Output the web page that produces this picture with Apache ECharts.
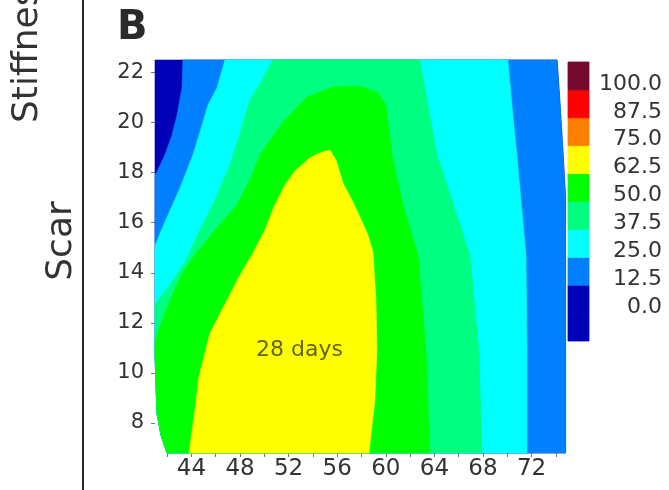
<!DOCTYPE html>
<html>
<head>
<meta charset="utf-8">
<script src="https://cdn.jsdelivr.net/npm/echarts@6/dist/echarts.min.js"></script>
<style>
    html, body { margin: 0; padding: 0; background: #fff; }
    #chart { width: 669px; height: 490px; }
</style>
</head>
<body>
<div id="chart"></div>
<script>
// axis ticks
var xLabels = [44, 48, 52, 56, 60, 64, 68, 72];
var xMinor = [42, 44, 46, 48, 50, 52, 54, 56, 58, 60, 62, 64, 66, 68, 70, 72, 74];
var yLabels = [8, 10, 12, 14, 16, 18, 20, 22];
var barLabels = [0, 12.5, 25, 37.5, 50, 62.5, 75, 87.5, 100];

// legend bands (lo, hi) and colours, bottom to top
var bandLo = [-12.5, 0, 12.5, 25, 37.5, 50, 62.5, 75, 87.5, 100];
var bandHi = [0, 12.5, 25, 37.5, 50, 62.5, 75, 87.5, 100, 112.5];
var bandColors = ['#0000b8', '#0000b8', '#0080ff', '#00ffff', '#00ff80', '#00ff00', '#ffff00', '#ff8000', '#ff0000', '#760a2e'];

// edges of the measured area
var leftEdge = [[41, 10.72], [41.16, 8.4], [41.49, 7.52], [41.99, 6.8]];
var rightEdge = [[74.8, 6.8], [74.8, 17], [74.6, 18.7], [74.35, 20.7], [74.1, 22.5]];

// contour lines (x = strain, y = scar)
var c125 = [[43.3, 22.5], [43.22, 21.38], [42.81, 20.3], [42.4, 19.5], [41.82, 18.71], [41.16, 18.03], [41, 17.91]];
var c25Left = [[46.76, 22.5], [46.1, 21.38], [45.36, 20.7], [44.95, 20.02], [44.13, 18.71], [43.06, 17.39], [41.82, 16.03], [41.25, 15.39], [41, 15.07]];
var c25Right = [[71.62, 6.8], [71.62, 10.91], [71.54, 14.71], [70.79, 18.71], [70.38, 20.7], [70.05, 22.5]];
var c375Left = [[50.71, 22.5], [49.81, 21.7], [48.82, 20.9], [48, 19.58], [47.17, 18.31], [45.94, 16.91], [44.7, 15.71], [43.47, 14.43], [42.23, 13.51], [41.25, 12.91], [41, 12.71]];
var c375Right = [[67.91, 6.8], [67.66, 10.91], [66.92, 14.71], [65.44, 16.91], [64.21, 18.71], [63.47, 20.7], [62.81, 22.5]];
var c50 = [[41, 11.31], [42.23, 12.91], [43.3, 14.03], [44.29, 14.71], [45.94, 15.71], [47.75, 16.71], [48.82, 17.71], [49.64, 18.71],
    [51.53, 20.02], [53.51, 21.02], [55.65, 21.42], [57.87, 21.46], [59.35, 21.18], [60.01, 20.7], [60.51, 18.71], [61.41, 16.71],
    [62.65, 14.71], [63.3, 10.91], [63.63, 6.8]];
var c625 = [[43.8, 6.8], [44.29, 8.52], [44.62, 9.84], [45.53, 11.59], [46.93, 12.91], [48, 13.91], [49.07, 14.79], [50.05, 15.71],
    [50.79, 16.63], [51.7, 17.51], [52.6, 18.11], [53.76, 18.59], [54.58, 18.79], [55.4, 18.9], [55.9, 18.51], [56.47, 17.59],
    [57.21, 16.91], [57.87, 16.23], [58.53, 15.51], [58.94, 14.83], [59.19, 12.91], [59.27, 10.91], [59.1, 8.92], [58.61, 6.8]];

var note = [[52.9, 10.9]];

// filled regions, painted from lowest level up
var layers = [
    { color: bandColors[1], points: [[41, 22.5]].concat(leftEdge, rightEdge) },
    { color: bandColors[2], points: c125.concat(leftEdge, rightEdge) },
    { color: bandColors[3], points: c25Left.concat(leftEdge, c25Right) },
    { color: bandColors[4], points: c375Left.concat(leftEdge, c375Right) },
    { color: bandColors[5], points: leftEdge.concat(c50.slice().reverse()) },
    { color: bandColors[6], points: c625 }
];

var textColor = '#333';
var font = 'DejaVu Sans';

function renderLayer(params, api) {
    var layer = layers[params.dataIndex];
    var pts = layer.points.map(function (p) { return api.coord(p); });
    return {
        type: 'polygon',
        shape: { points: pts },
        style: { fill: layer.color, stroke: layer.color, lineWidth: 0.6 }
    };
}

function renderBand(params, api) {
    var p0 = api.coord([0, api.value(0)]);
    var p1 = api.coord([1, api.value(1)]);
    var c = bandColors[params.dataIndex];
    return {
        type: 'rect',
        shape: { x: p0[0], y: p1[1], width: p1[0] - p0[0], height: p0[1] - p1[1] },
        style: { fill: c, stroke: c, lineWidth: 0.8 }
    };
}

var chart = echarts.init(document.getElementById('chart'), null, { renderer: 'canvas' });

var option = {
    backgroundColor: '#fff',
    animation: false,
    textStyle: { fontFamily: font },
    grid: [
        { left: 155, top: 60, width: 413, height: 393, outerBoundsMode: 'none' },
        { left: 568, top: 62, width: 21, height: 279, outerBoundsMode: 'none' }
    ],
    xAxis: [
        {
            gridIndex: 0, type: 'value', min: 41, max: 75,
            axisLine: { show: false },
            splitLine: { show: false },
            axisTick: { show: true, customValues: xMinor, length: 4, lineStyle: { color: '#777' } },
            axisLabel: { customValues: xLabels, fontSize: 23, color: textColor, margin: 5, fontFamily: font }
        },
        { gridIndex: 1, type: 'value', min: 0, max: 1, show: false }
    ],
    yAxis: [
        {
            gridIndex: 0, type: 'value', min: 6.8, max: 22.5,
            axisLine: { show: false },
            splitLine: { show: false },
            axisTick: { show: true, customValues: yLabels, length: 4, lineStyle: { color: '#777' } },
            axisLabel: { customValues: yLabels, fontSize: 21, color: textColor, margin: 11, fontFamily: font }
        },
        {
            gridIndex: 1, type: 'value', min: -12.5, max: 112.5, position: 'right',
            axisLine: { show: false },
            splitLine: { show: false },
            axisTick: { show: false },
            axisLabel: {
                customValues: barLabels, fontSize: 22, color: textColor, margin: 73, align: 'right',
                verticalAlign: 'bottom', lineHeight: 12, fontFamily: font,
                formatter: function (v) { return v.toFixed(1); }
            }
        }
    ],
    series: [
        {
            type: 'custom', xAxisIndex: 0, yAxisIndex: 0,
            renderItem: renderLayer,
            data: layers.map(function (l, i) { return [i]; }),
            silent: true, z: 1
        },
        {
            type: 'custom', xAxisIndex: 1, yAxisIndex: 1,
            renderItem: renderBand,
            data: bandLo.map(function (lo, i) { return [lo, bandHi[i]]; }),
            silent: true, z: 1
        },
        {
            type: 'scatter', xAxisIndex: 0, yAxisIndex: 0,
            data: note, symbolSize: 1,
            itemStyle: { color: 'rgba(0,0,0,0)' },
            label: { show: true, position: 'inside', formatter: '28 days', fontSize: 22, color: '#3c3c18', fontFamily: font },
            z: 5
        }
    ],
    graphic: [
        { type: 'line', shape: { x1: 83, y1: 0, x2: 83, y2: 490 }, style: { stroke: '#2a2a2a', lineWidth: 2 } },
        { type: 'text', x: 117, y: 9, style: { text: 'B', fontSize: 40, fontWeight: 'bold', fontFamily: font, fill: '#2a2a2a' } },
        {
            type: 'text', x: 28, y: 123, rotation: Math.PI / 2,
            style: { text: 'Stiffness', fontSize: 36, fontFamily: font, fill: textColor, align: 'left', verticalAlign: 'middle' }
        },
        {
            type: 'text', x: 62, y: 241, rotation: Math.PI / 2,
            style: { text: 'Scar', fontSize: 36, fontFamily: font, fill: textColor, align: 'center', verticalAlign: 'middle' }
        }
    ]
};

chart.setOption(option);
</script>
</body>
</html>
